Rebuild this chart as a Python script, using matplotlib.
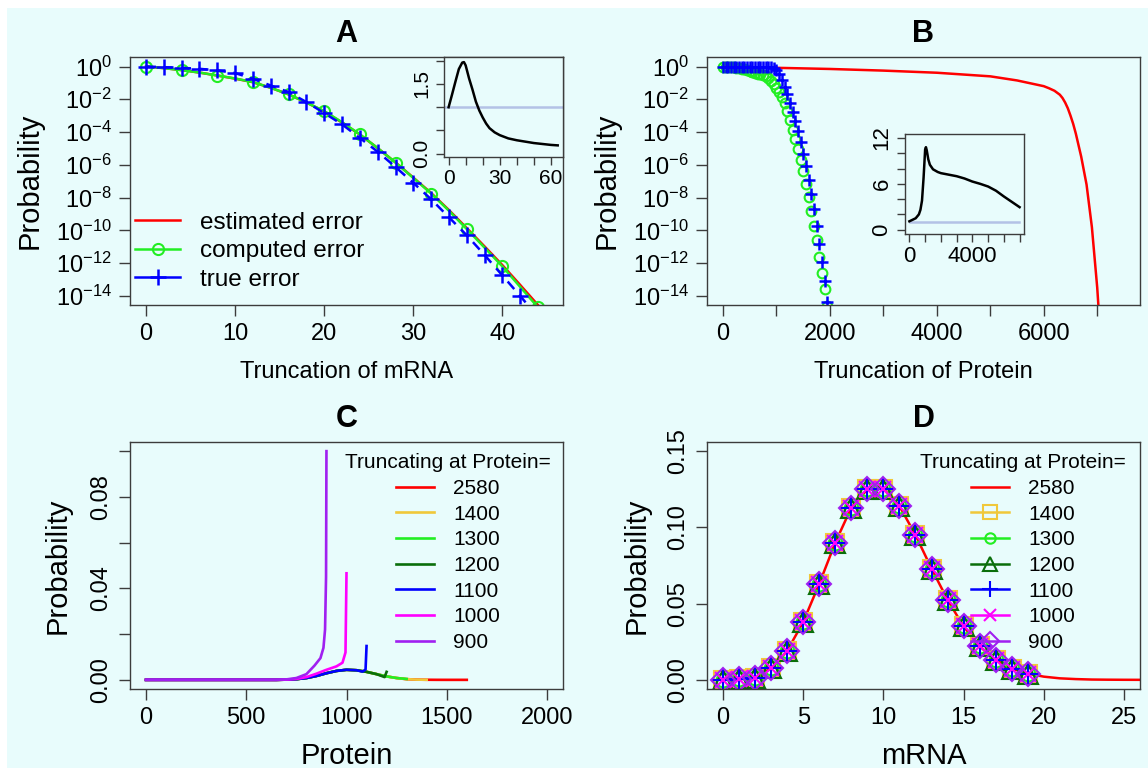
import numpy as np
import matplotlib.pyplot as plt
from matplotlib.patches import Rectangle

plt.rcParams['font.family'] = ['Liberation Sans', 'DejaVu Sans']
plt.rcParams['mathtext.fontset'] = 'custom'
plt.rcParams['mathtext.rm'] = 'Liberation Sans'
plt.rcParams['mathtext.it'] = 'Liberation Sans:italic'

BG = '#e8fcfc'
EDGE = '#3c3c3c'

# ---- panel A: truncation of mRNA (log10 of error) ----
trunc_mrna = [0, 2, 4, 6, 8, 10, 12, 14, 16, 18, 20, 22, 24, 26, 28, 30, 32, 34, 36, 38, 40, 42, 44]
est_err_a = [0, -0.1, -0.22, -0.37, -0.55, -0.74, -0.96, -1.3, -1.7, -2.2, -2.74, -3.42, -4.15,
             -4.98, -5.85, -6.78, -7.72, -8.76, -9.86, -10.98, -12.12, -13.33, -14.56]
comp_err_a = [0, -0.1, -0.22, -0.37, -0.55, -0.73, -0.95, -1.3, -1.7, -2.2, -2.72, -3.4, -4.14,
              -4.98, -5.86, -6.8, -7.75, -8.8, -9.92, -11.05, -12.2, -13.45, -14.7]
true_err_a = [0, -0.04, -0.08, -0.14, -0.24, -0.4, -0.75, -1.16, -1.56, -2.17, -2.84, -3.53, -4.36,
              -5.2, -6.13, -7.1, -8.1, -9.2, -10.3, -11.5, -12.75, -14.0, -15.3]

inset_a_x = [0, 2, 4, 6, 8, 9, 10, 12, 14, 16, 18, 20, 22, 24, 27, 30, 35, 40, 45, 50, 55, 60, 64]
inset_a_y = [1.0, 1.27, 1.55, 1.82, 1.96, 1.97, 1.9, 1.62, 1.38, 1.12, 0.93, 0.78, 0.65, 0.55,
             0.46, 0.40, 0.33, 0.29, 0.26, 0.23, 0.21, 0.19, 0.18]

# ---- panel B: truncation of protein ----
est_prot_x = [0, 1000, 2000, 3000, 4000, 5000, 5500, 6000, 6100, 6200, 6300, 6350, 6400, 6450,
              6500, 6550, 6600, 6700, 6800, 6900, 7000, 7030]
est_err_b = [0, -0.08, -0.15, -0.25, -0.38, -0.6, -0.85, -1.2, -1.33, -1.48, -1.72, -1.92, -2.2,
             -2.55, -3.0, -3.5, -4.1, -5.5, -7.2, -9.8, -13.5, -15.0]
trunc_prot = [0, 50, 100, 150, 200, 250, 300, 350, 400, 450, 500, 550, 600, 650, 700, 750, 800,
              850, 900, 950, 1000, 1050, 1100, 1150, 1200, 1250, 1300, 1350, 1400, 1450, 1500,
              1550, 1600, 1650, 1700, 1750, 1800, 1850, 1900, 1950]
comp_err_b = [0, 0, -0.01, -0.03, -0.05, -0.07, -0.1, -0.13, -0.17, -0.21, -0.26, -0.31, -0.37,
              -0.43, -0.48, -0.54, -0.6, -0.72, -0.88, -1.08, -1.3, -1.55, -1.85, -2.2, -2.7,
              -3.25, -3.85, -4.45, -5.05, -5.7, -6.4, -7.15, -7.95, -8.8, -9.7, -10.6, -11.6,
              -12.6, -13.6, -14.6]
true_err_b = [0, 0, 0, 0, 0, 0, 0, 0, 0, 0, 0, 0, 0, 0, 0, 0, -0.01, -0.01, -0.02, -0.08, -0.2,
              -0.45, -0.85, -1.25, -1.65, -2.2, -2.75, -3.35, -3.95, -4.6, -5.35, -6.1, -6.95,
              -7.8, -8.7, -9.7, -10.8, -11.9, -13.1, -14.35]

inset_b_x = [0, 200, 400, 600, 700, 800, 900, 1000, 1050, 1100, 1200, 1300, 1500, 1800, 2000,
             2500, 3000, 3500, 4000, 4500, 5000, 5500, 6000, 6500, 7000]
inset_b_y = [1.1, 1.3, 1.5, 2.0, 2.6, 3.8, 6.8, 10.5, 10.8, 10.4, 9.2, 8.5, 7.9, 7.55, 7.4, 7.2,
             7.0, 6.7, 6.3, 6.0, 5.65, 5.1, 4.35, 3.65, 2.95]

# ---- panel C: protein marginals per truncation ----
trunc_labels = ['2580', '1400', '1300', '1200', '1100', '1000', '900']
trunc_colors = ['#ff0000', '#f0c83a', '#22ee22', '#0a6e0a', '#0000ff', '#ff00ff', '#a020f0']

c_x_2580 = [0, 650, 700, 750, 800, 850, 900, 950, 1000, 1050, 1100, 1150, 1200, 1250, 1300,
            1350, 1400, 1450, 1500, 1600]
c_y_2580 = [0, 0, 0.0001, 0.0003, 0.0008, 0.0017, 0.0029, 0.0039, 0.0044, 0.0042, 0.0035,
            0.0025, 0.0015, 0.0008, 0.0003, 0.0001, 0.00004, 0.00001, 0, 0]
c_x_1400 = [0, 650, 700, 750, 800, 850, 900, 950, 1000, 1050, 1100, 1150, 1200, 1250, 1300,
            1350, 1400]
c_y_1400 = [0, 0, 0.0001, 0.0003, 0.0008, 0.0017, 0.0029, 0.0039, 0.0044, 0.0042, 0.0035,
            0.0025, 0.0015, 0.0008, 0.0003, 0.0001, 0.00005]
c_x_1300 = [0, 650, 700, 750, 800, 850, 900, 950, 1000, 1050, 1100, 1150, 1200, 1250, 1300]
c_y_1300 = [0, 0, 0.0001, 0.0003, 0.0008, 0.0017, 0.0029, 0.0039, 0.0044, 0.0042, 0.0035,
            0.0025, 0.0015, 0.0008, 0.0004]
c_x_1200 = [0, 650, 700, 750, 800, 850, 900, 950, 1000, 1050, 1100, 1150, 1190, 1200]
c_y_1200 = [0, 0, 0.0001, 0.0003, 0.0008, 0.0017, 0.0029, 0.0039, 0.0044, 0.0042, 0.0035,
            0.0025, 0.0012, 0.0035]
c_x_1100 = [0, 650, 700, 750, 800, 850, 900, 950, 1000, 1050, 1080, 1095, 1100]
c_y_1100 = [0, 0, 0.0001, 0.0003, 0.0008, 0.0017, 0.0029, 0.0039, 0.0044, 0.0042, 0.0036,
            0.0045, 0.0148]
c_x_1000 = [0, 650, 700, 750, 800, 850, 900, 950, 980, 995, 1000]
c_y_1000 = [0, 0, 0.0001, 0.0004, 0.0012, 0.0027, 0.0044, 0.0059, 0.0075, 0.012, 0.0466]
c_x_900 = [0, 650, 700, 750, 800, 840, 870, 885, 893, 898, 900]
c_y_900 = [0, 0, 0.0002, 0.0008, 0.0025, 0.0062, 0.0095, 0.014, 0.022, 0.045, 0.1]

c_xs = [c_x_2580, c_x_1400, c_x_1300, c_x_1200, c_x_1100, c_x_1000, c_x_900]
c_ys = [c_y_2580, c_y_1400, c_y_1300, c_y_1200, c_y_1100, c_y_1000, c_y_900]

# ---- panel D: mRNA marginals ----
mrna_full = list(range(27))
mrna_prob_full = [0.0, 0.0003, 0.0015, 0.0075, 0.019, 0.038, 0.063, 0.090, 0.113, 0.125, 0.1253,
                  0.114, 0.095, 0.073, 0.0525, 0.035, 0.022, 0.013, 0.0074, 0.0041, 0.0021,
                  0.001, 0.0005, 0.0002, 0.0001, 0.00004, 0.00001]
mrna_pts = list(range(20))
mrna_prob_pts = [0.0, 0.0003, 0.0015, 0.0075, 0.019, 0.038, 0.063, 0.090, 0.113, 0.125, 0.1253,
                 0.114, 0.095, 0.073, 0.0525, 0.035, 0.022, 0.013, 0.0074, 0.0041]
d_markers = ['s', 'o', '^', '+', 'x', 'D']
d_msizes = [13, 10, 14, 16, 12, 12]

W, H = 1148, 770
fig = plt.figure(figsize=(W / 100, H / 100), dpi=100, facecolor='white')
fig.patches.append(Rectangle((7 / W, 2 / H), 1 - 7 / W, 1 - 10 / H, transform=fig.transFigure,
                             facecolor=BG, edgecolor='none', zorder=-10))


def add_axes(px_left, px_top, px_right, px_bottom):
    ax = fig.add_axes([px_left / W, 1 - px_bottom / H, (px_right - px_left) / W,
                       (px_bottom - px_top) / H])
    ax.set_facecolor(BG)
    for s in ax.spines.values():
        s.set_color(EDGE)
        s.set_linewidth(1.0)
    ax.tick_params(direction='out', length=8, width=1.0, color=EDGE, labelsize=17, pad=5)
    return ax


def log_axis(ax):
    ax.set_yscale('log')
    ax.set_ylim(10 ** -14.55, 10 ** 0.58)
    ax.set_yticks([10.0 ** -k for k in range(0, 15, 2)])
    ax.set_yticklabels(['$10^{0}$'] + ['$10^{-%d}$' % k for k in range(2, 15, 2)], fontsize=17)
    ax.yaxis.set_minor_locator(plt.NullLocator())


def rot_ylabels(ax):
    for lbl in ax.get_yticklabels():
        lbl.set_rotation(90)
        lbl.set_va('center')


# ---------------- A ----------------
axA = add_axes(130, 57, 563, 305)
axA.plot(trunc_mrna, 10 ** np.array(est_err_a), color='red', lw=1.8, label='estimated error')
axA.plot(trunc_mrna, 10 ** np.array(comp_err_a), color='#22ee22', lw=1.8, marker='o', ms=8,
         mfc='none', mew=1.5, markevery=2, label='computed error')
axA.plot(trunc_mrna, 10 ** np.array(true_err_a), color='blue', lw=1.8, ls=(0, (4, 3)), marker='+',
         ms=12, mew=1.8, label='true error')
log_axis(axA)
axA.set_xlim(-1.8, 46.8)
axA.set_xticks([0, 10, 20, 30, 40])
axA.set_title('A', fontsize=22, fontweight='bold', pad=11)
axA.set_xlabel('Truncation of mRNA', fontsize=17)
axA.set_ylabel('Probability', fontsize=21)
axA.xaxis.set_label_coords(0.5, -0.225)
axA.yaxis.set_label_coords(-0.2, 0.5)
legA = axA.legend(loc='lower left', bbox_to_anchor=(-0.038, -0.03), frameon=False, fontsize=17.5,
                  handlelength=1.85, handletextpad=0.8, labelspacing=0.26)
# dashed line in plot, solid line in legend
legA.get_lines()[2].set_linestyle('-')

inA = add_axes(444, 57, 563, 157)
inA.plot(inset_a_x, inset_a_y, color='black', lw=1.8)
inA.axhline(1.0, color='#b4c2e6', lw=1.8, zorder=0)
inA.set_xlim(-2.7, 67.1)
inA.set_ylim(-0.07, 2.08)
inA.set_xticks([0, 10, 20, 30, 40, 50, 60])
inA.set_xticklabels(['0', '', '', '30', '', '', '60'])
inA.set_yticks([0, 0.5, 1.0, 1.5, 2.0])
inA.set_yticklabels(['0.0', '', '', '1.5', ''])
inA.tick_params(labelsize=15, length=6, pad=3)
rot_ylabels(inA)

# ---------------- B ----------------
axB = add_axes(707, 57, 1140, 305)
axB.plot(est_prot_x, 10 ** np.array(est_err_b), color='red', lw=1.8)
axB.plot(trunc_prot, 10 ** np.array(comp_err_b), color='#22ee22', ls='none', marker='o', ms=7,
         mfc='none', mew=1.5)
axB.plot(trunc_prot, 10 ** np.array(true_err_b), color='blue', ls='none', marker='+', ms=9,
         mew=1.8)
log_axis(axB)
axB.set_xlim(-300, 7800)
axB.set_xticks(range(0, 7001, 1000))
axB.set_xticklabels(['0', '', '2000', '', '4000', '', '6000', ''])
axB.set_title('B', fontsize=22, fontweight='bold', pad=11)
axB.set_xlabel('Truncation of Protein', fontsize=17)
axB.set_ylabel('Probability', fontsize=21)
axB.xaxis.set_label_coords(0.5, -0.225)
axB.yaxis.set_label_coords(-0.2, 0.5)

inB = add_axes(905, 134, 1024, 234)
inB.plot(inset_b_x, inset_b_y, color='black', lw=1.8)
inB.axhline(1.0, color='#b4c2e6', lw=1.8, zorder=0, xmin=0.04, xmax=0.96)
inB.set_xlim(-280, 7280)
inB.set_ylim(-0.56, 12.52)
inB.set_xticks(range(0, 7001, 1000))
inB.set_xticklabels(['0', '', '', '', '4000', '', '', ''])
inB.set_yticks(range(0, 13, 2))
inB.set_yticklabels(['0', '', '', '6', '', '', '12'])
inB.tick_params(labelsize=16, length=6, pad=3)
rot_ylabels(inB)

# ---------------- C ----------------
axC = add_axes(130, 442, 563, 689)
for xs, ys, col, lab in zip(c_xs, c_ys, trunc_colors, trunc_labels):
    axC.plot(xs, ys, color=col, lw=1.9, label=lab)
axC.set_xlim(-80, 2080)
axC.set_ylim(-0.004, 0.104)
axC.set_xticks([0, 500, 1000, 1500, 2000])
axC.set_yticks([0, 0.02, 0.04, 0.06, 0.08, 0.10])
axC.set_yticklabels(['0.00', '', '0.04', '', '0.08', ''])
rot_ylabels(axC)
axC.set_title('C', fontsize=22, fontweight='bold', pad=11)
axC.set_xlabel('Protein', fontsize=21)
axC.set_ylabel('Probability', fontsize=21)
axC.xaxis.set_label_coords(0.5, -0.215)
axC.yaxis.set_label_coords(-0.135, 0.5)
axC.legend(loc='upper right', bbox_to_anchor=(1.015, 1.03), frameon=False, fontsize=15,
           title='Truncating at Protein=', title_fontsize=15, handlelength=1.85,
           handletextpad=0.9, labelspacing=0.32)

# ---------------- D ----------------
axD = add_axes(707, 442, 1140, 689)
handles = [axD.plot(mrna_full, mrna_prob_full, color='red', lw=1.8, label=trunc_labels[0])[0]]
for col, lab, mk, ms in zip(trunc_colors[1:], trunc_labels[1:], d_markers, d_msizes):
    axD.plot(mrna_pts, mrna_prob_pts, ls='none', marker=mk, ms=ms, color=col, mfc='none', mew=1.5)
    handles.append(plt.Line2D([], [], color=col, lw=1.8, marker=mk, ms=ms * 0.75, mfc='none',
                              mew=1.5, label=lab))
axD.set_xlim(-1, 26)
axD.set_ylim(-0.006, 0.156)
axD.set_xticks([0, 5, 10, 15, 20, 25])
axD.set_yticks([0, 0.05, 0.10, 0.15])
axD.set_yticklabels(['0.00', '0.05', '0.10', '0.15'])
rot_ylabels(axD)
axD.set_title('D', fontsize=22, fontweight='bold', pad=11)
axD.set_xlabel('mRNA', fontsize=21)
axD.set_ylabel('Probability', fontsize=21)
axD.xaxis.set_label_coords(0.5, -0.215)
axD.yaxis.set_label_coords(-0.13, 0.5)
axD.legend(handles=handles, loc='upper right', bbox_to_anchor=(1.01, 1.03), frameon=False,
           fontsize=15, title='Truncating at Protein=', title_fontsize=15, handlelength=1.85,
           handletextpad=0.9, labelspacing=0.32)

fig.savefig('out.png', dpi=100, facecolor=fig.get_facecolor())
